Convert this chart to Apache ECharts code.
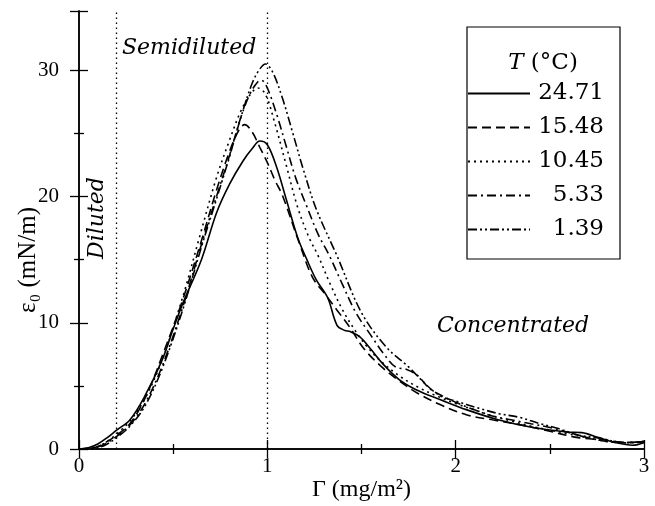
<!DOCTYPE html>
<html>
<head>
<meta charset="utf-8">
<script src="https://cdn.jsdelivr.net/npm/echarts@6/dist/echarts.min.js"></script>
<style>
html,body{margin:0;padding:0;background:#fff;}
#chart{width:655px;height:506px;}
</style>
</head>
<body>
<div id="chart"></div>
<script>
// Temperatures (legend labels)
var temps = ['24.71', '15.48', '10.45', '5.33', '1.39'];

// 24.71 °C (solid)
var x1 = [0,0.05,0.1,0.15,0.2,0.27,0.35,0.44,0.5,0.55,0.65,0.73,0.8,0.87,0.92,0.96,1.0,1.05,1.1,1.16,1.21,1.26,1.32,1.37,1.41,1.44,1.49,1.55,1.61,1.7,1.79,1.92,2.06,2.23,2.41,2.59,2.67,2.76,2.85,2.94,3.0];
var y1 = [0,0.1,0.4,0.9,1.5,2.3,4.2,7.0,9.5,11.5,15.0,18.7,21.0,22.8,23.8,24.4,24.1,22.3,19.8,16.8,15.0,13.4,12.0,9.8,9.4,9.3,8.9,7.9,6.8,5.5,4.7,3.9,3.1,2.3,1.7,1.35,1.3,0.9,0.5,0.3,0.5];

// 15.48 °C (dashed)
var x2 = [0,0.05,0.1,0.15,0.2,0.27,0.35,0.44,0.55,0.65,0.73,0.8,0.85,0.88,0.92,0.96,1.0,1.04,1.08,1.17,1.24,1.31,1.37,1.44,1.51,1.6,1.7,1.8,1.92,2.06,2.2,2.35,2.5,2.65,2.8,2.9,3.0];
var y2 = [0,0.05,0.2,0.6,1.1,2.0,4.0,7.3,11.8,16.5,20.5,23.6,25.3,25.7,25.1,23.9,22.7,21.3,20.1,16.3,13.6,12.2,11.0,9.6,8.0,6.6,5.4,4.4,3.5,2.7,2.3,1.9,1.4,0.9,0.7,0.5,0.6];

// 10.45 °C (dotted)
var x3 = [0,0.05,0.1,0.15,0.2,0.27,0.35,0.44,0.55,0.64,0.73,0.8,0.86,0.91,0.95,0.99,1.04,1.1,1.16,1.22,1.27,1.33,1.4,1.47,1.53,1.6,1.7,1.8,1.9,2.0,2.1,2.2,2.3,2.4,2.5,2.6,2.7,2.8,2.9,3.0];
var y3 = [0,0.05,0.2,0.6,1.2,2.2,4.0,7.0,12.0,16.8,21.5,24.5,26.8,28.1,28.6,28.1,25.8,22.5,19.2,16.8,15.3,13.2,11.0,9.3,8.1,7.0,5.8,4.9,4.2,3.6,3.1,2.6,2.2,1.8,1.5,1.2,0.9,0.6,0.5,0.6];

// 5.33 °C (dash-dot)
var x4 = [0,0.05,0.1,0.15,0.2,0.27,0.35,0.44,0.55,0.65,0.73,0.8,0.86,0.91,0.95,0.97,1.0,1.05,1.1,1.15,1.21,1.27,1.33,1.4,1.47,1.55,1.62,1.68,1.74,1.8,1.86,1.93,2.0,2.1,2.2,2.3,2.4,2.5,2.6,2.7,2.8,2.9,3.0];
var y4 = [0,0.0,0.15,0.5,1.0,1.9,3.6,6.5,11.2,16.2,20.0,23.3,26.3,28.2,29.1,29.2,28.6,26.5,24.0,21.5,19.2,17.0,15.3,13.0,10.8,9.0,7.5,6.5,6.3,5.8,4.8,4.2,3.7,3.1,2.6,2.3,2.0,1.7,1.3,0.9,0.6,0.5,0.6];

// 1.39 °C (dash-dot-dot)
var x5 = [0,0.05,0.1,0.15,0.2,0.27,0.35,0.44,0.55,0.65,0.73,0.8,0.86,0.92,0.96,0.99,1.03,1.08,1.13,1.19,1.26,1.37,1.5,1.63,1.75,1.85,1.92,2.0,2.13,2.23,2.34,2.45,2.55,2.65,2.75,2.85,2.95,3.0];
var y5 = [0,0.0,0.1,0.4,0.9,1.8,3.4,6.3,11.0,16.0,19.8,23.2,26.3,29.0,30.1,30.5,29.8,27.8,25.3,22.2,19.0,15.3,10.8,8.1,6.5,5.0,4.2,3.8,3.2,2.8,2.5,2.0,1.6,1.1,0.9,0.6,0.5,0.6];

// Axis tick labels
var xTicks = [0, 1, 2, 3];
var yTicks = [0, 10, 20, 30];

var xs = [x1, x2, x3, x4, x5];
var ys = [y1, y2, y3, y4, y5];
var dashes = ['solid', [9, 5], [2, 4], [9, 4, 2, 4], [9, 3, 2, 3, 2, 3]];

var serif = 'Liberation Serif';
var series = temps.map(function (t, i) {
  var d = xs[i].map(function (x, k) { return [x, ys[i][k]]; });
  var s = {
    name: t,
    type: 'line',
    data: d,
    smooth: 0.35,
    symbol: 'none',
    showSymbol: false,
    lineStyle: { color: '#000', width: 1.6, type: dashes[i] },
    itemStyle: { color: '#000' },
    z: 3
  };
  if (i === 0) {
    s.markLine = {
      silent: true,
      symbol: 'none',
      label: { show: false },
      lineStyle: { color: '#000', type: [1.5, 3.5], width: 1.3 },
      data: [{ xAxis: 0.2 }, { xAxis: 1.0 }]
    };
  }
  return s;
});

function axisCommon(extra) {
  var o = {
    axisLine: { show: true, lineStyle: { color: '#000', width: 1.5 } },
    axisTick: { show: true, inside: true, length: 9, lineStyle: { color: '#000', width: 1.3 } },
    minorTick: { show: true, splitNumber: 2, length: 5, lineStyle: { color: '#000', width: 1.3 } },
    splitLine: { show: false }
  };
  for (var k in extra) o[k] = extra[k];
  return o;
}

var chart = echarts.init(document.getElementById('chart'));
chart.setOption({
  animation: false,
  backgroundColor: '#fff',
  grid: { left: 79, right: 11, top: 11, bottom: 57, containLabel: false, outerBoundsMode: 'none' },
  legend: {
    data: temps,
    orient: 'vertical',
    left: 467, top: 27,
    padding: [55, 16, 18, 0],
    itemWidth: 62, itemHeight: 14, itemGap: 11,
    borderColor: '#000', borderWidth: 1.2,
    itemStyle: { opacity: 0 },
    formatter: '{a|{name}}',
    textStyle: {
      color: '#000', lineHeight: 14,
      rich: { a: { fontFamily: 'DejaVu Serif', fontSize: 23, color: '#000', width: 69, align: 'right', lineHeight: 14 } }
    }
  },
  xAxis: [axisCommon({
    type: 'value', min: 0, max: 3, interval: 1,
    name: 'Γ (mg/m²)', nameLocation: 'middle', nameGap: 29, nameMoveOverlap: false,
    nameTextStyle: { fontFamily: serif, fontSize: 24, color: '#000' },
    axisLabel: { fontFamily: serif, fontSize: 21, color: '#000', margin: 7,
      formatter: function (v) { return xTicks.indexOf(v) >= 0 ? String(v) : ''; } }
  }), axisCommon({
    type: 'value', min: 0, max: 3, interval: 1, position: 'top',
    axisLabel: { show: false }
  })],
  yAxis: [axisCommon({
    type: 'value', min: 0, max: 34.7, interval: 10,
    name: 'ε₀ (mN/m)', nameLocation: 'middle', nameGap: 38, nameMoveOverlap: false,
    nameTextStyle: { fontFamily: serif, fontSize: 25, color: '#000', padding: [0, 60, 0, 0] },
    axisLabel: { fontFamily: serif, fontSize: 21, color: '#000', margin: 20,
      formatter: function (v) { return yTicks.indexOf(v) >= 0 ? String(v) : ''; } }
  }), axisCommon({
    type: 'value', min: 0, max: 34.7, interval: 10, position: 'right',
    axisLabel: { show: false }
  })],
  graphic: [
    { type: 'text', left: 122, top: 37, style: { text: 'Semidiluted', font: 'italic 22px "DejaVu Serif"', fill: '#000' } },
    { type: 'text', left: 437, top: 315, style: { text: 'Concentrated', font: 'italic 22px "DejaVu Serif"', fill: '#000' } },
    { type: 'text', x: 97, y: 218, rotation: Math.PI / 2, style: { text: 'Diluted', font: 'italic 22px "DejaVu Serif"', fill: '#000', align: 'center', verticalAlign: 'middle' } },
    { type: 'text', x: 543, y: 63, style: { text: '{i|T} (°C)', align: 'center', verticalAlign: 'middle', fill: '#000', font: '23px "DejaVu Serif"',
      rich: { i: { fontFamily: 'DejaVu Serif', fontStyle: 'italic', fontSize: 23, fill: '#000' } } } }
  ],
  series: series
});
</script>
</body>
</html>
